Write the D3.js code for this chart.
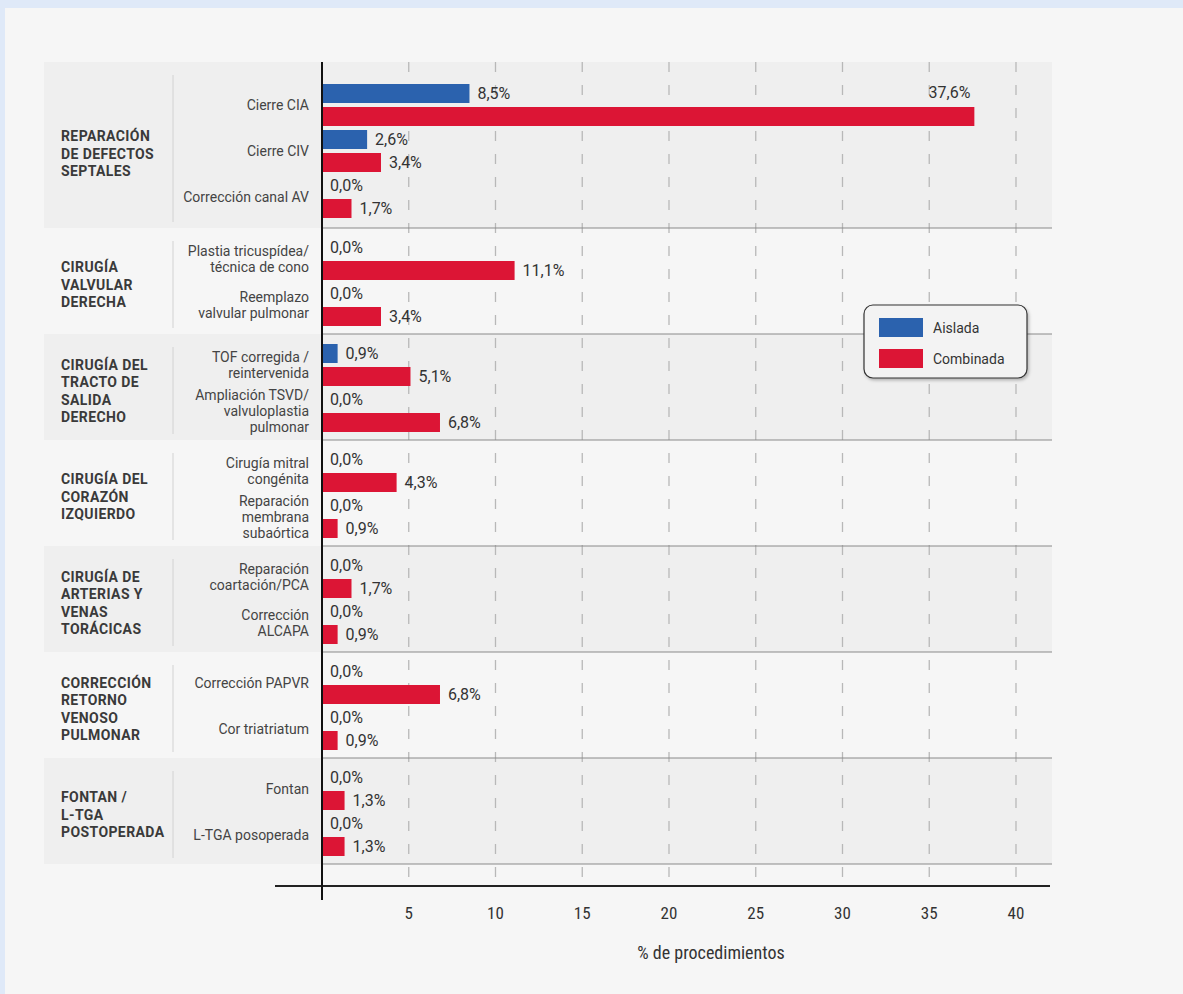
<!DOCTYPE html>
<html>
<head>
<meta charset="utf-8">
<script src="https://cdn.jsdelivr.net/npm/d3@7"></script>
<style>
  body { margin: 0; background: #dfe9f8; }
  svg { display: block; }
</style>
</head>
<body>
<div class="canvas"></div>
<script>
// data
const groups = [
  'REPARACIÓN\nDE DEFECTOS\nSEPTALES',
  'CIRUGÍA\nVALVULAR\nDERECHA',
  'CIRUGÍA DEL\nTRACTO DE\nSALIDA\nDERECHO',
  'CIRUGÍA DEL\nCORAZÓN\nIZQUIERDO',
  'CIRUGÍA DE\nARTERIAS Y\nVENAS\nTORÁCICAS',
  'CORRECCIÓN\nRETORNO\nVENOSO\nPULMONAR',
  'FONTAN /\nL-TGA\nPOSTOPERADA'
];
const procedures = [
  ['Cierre CIA', 'Cierre CIV', 'Corrección canal AV'],
  ['Plastia tricuspídea/\ntécnica de cono', 'Reemplazo\nvalvular pulmonar'],
  ['TOF corregida /\nreintervenida', 'Ampliación TSVD/\nvalvuloplastia\npulmonar'],
  ['Cirugía mitral\ncongénita', 'Reparación\nmembrana\nsubaórtica'],
  ['Reparación\ncoartación/PCA', 'Corrección\nALCAPA'],
  ['Corrección PAPVR', 'Cor triatriatum'],
  ['Fontan', 'L-TGA posoperada']
];
const aislada = [
  [8.5, 2.6, 0.0],
  [0.0, 0.0],
  [0.9, 0.0],
  [0.0, 0.0],
  [0.0, 0.0],
  [0.0, 0.0],
  [0.0, 0.0]
];
const combinada = [
  [37.6, 3.4, 1.7],
  [11.1, 3.4],
  [5.1, 6.8],
  [4.3, 0.9],
  [1.7, 0.9],
  [6.8, 0.9],
  [1.3, 1.3]
];
const series = ['Aislada', 'Combinada'];
const colors = ['#2b62ae', '#dc1535'];
const ticks = [5, 10, 15, 20, 25, 30, 35, 40];

const W = 1183, H = 994;
const svg = d3.select('.canvas')
  .append('svg')
    .attr('width', W)
    .attr('height', H);

// panel background
svg.append('rect')
  .attr('x', 5).attr('y', 8)
  .attr('width', W - 5).attr('height', H - 8)
  .attr('fill', '#f6f6f6');

// layout
const left = 44, right = 1052;
const top0 = 62;
const step = 46, padFirst = 20, padTop = 8, padBottom = 6;
const barH = 19;

const x = d3.scaleLinear()
  .domain([0, 40])
  .range([322, 1016]);

// compute group extents
let cursor = top0;
const layout = groups.map((g, i) => {
  const pt = i === 0 ? padFirst : padTop;
  const pb = i === 0 ? padBottom + 2 : padBottom;
  const h = pt + procedures[i].length * step + pb;
  const item = {i, y0: cursor, y1: cursor + h, pt};
  cursor += h;
  return item;
});
const chartBottom = cursor;

const fmt = v => v.toFixed(1).replace('.', ',') + '%';

// group bands
svg.selectAll('rect.band')
  .data(layout.filter(d => d.i % 2 === 0))
  .enter().append('rect')
    .attr('class', 'band')
    .attr('x', left)
    .attr('y', d => d.y0)
    .attr('width', right - left)
    .attr('height', d => d.y1 - d.y0)
    .attr('fill', '#efefef');

// dashed gridlines
svg.selectAll('line.grid')
  .data(ticks)
  .enter().append('line')
    .attr('x1', d => x(d)).attr('x2', d => x(d))
    .attr('y1', top0).attr('y2', chartBottom + 18)
    .attr('stroke', '#b8b8b8')
    .attr('stroke-width', 1.3)
    .attr('stroke-dasharray', '10,13');

// separator lines
svg.selectAll('line.sep')
  .data(layout)
  .enter().append('line')
    .attr('x1', x(0)).attr('x2', right)
    .attr('y1', d => d.y1).attr('y2', d => d.y1)
    .attr('stroke', '#8a8a8a')
    .attr('stroke-width', 1.2);

// divider between group and procedure labels
svg.selectAll('line.div')
  .data(layout)
  .enter().append('line')
    .attr('x1', 173).attr('x2', 173)
    .attr('y1', d => d.y0 + 13).attr('y2', d => d.y1 - 6)
    .attr('stroke', '#d2d2d2')
    .attr('stroke-width', 1);

const multiline = (sel, text, x0, yc, lh) => {
  const lines = text.split('\n');
  lines.forEach((ln, k) => {
    sel.append('tspan')
      .attr('x', x0)
      .attr('y', yc + (k - (lines.length - 1) / 2) * lh)
      .attr('dy', '0.35em')
      .text(ln);
  });
};

// group labels
layout.forEach(d => {
  const yc = d.y0 + d.pt + procedures[d.i].length * step / 2 + 3;
  const t = svg.append('text')
    .attr('font-family', 'Roboto, sans-serif')
    .attr('font-weight', 700)
    .attr('font-size', 14)
    .attr('letter-spacing', 0.4)
    .attr('fill', '#3a3a3a');
  multiline(t, groups[d.i], 61, yc, 17.5);
});

// bars and labels
layout.forEach(d => {
  procedures[d.i].forEach((p, j) => {
    const sy = d.y0 + d.pt + j * step;
    const slot = step / 2;
    const t = svg.append('text')
      .attr('font-family', 'Roboto, sans-serif')
      .attr('font-size', 14)
      .attr('text-anchor', 'end')
      .attr('fill', '#444');
    multiline(t, p, 309, sy + step / 2, 16);

    [aislada[d.i][j], combinada[d.i][j]].forEach((v, s) => {
      const by = sy + s * slot + (slot - barH) / 2;
      if (v > 0) {
        svg.append('rect')
          .attr('x', x(0))
          .attr('y', by)
          .attr('width', x(v) - x(0))
          .attr('height', barH)
          .attr('fill', colors[s]);
      }
      const big = v > 30;
      svg.append('text')
        .attr('x', v > 0 ? (big ? x(v) - 4 : x(v) + 8) : x(0) + 8)
        .attr('y', big ? by - 15 : by + barH / 2)
        .attr('dy', '0.35em')
        .attr('text-anchor', big ? 'end' : 'start')
        .attr('font-family', 'Roboto, sans-serif')
        .attr('font-size', 16)
        .attr('fill', '#333')
        .text(fmt(v));
    });
  });
});

// axes
const axisY = 886;
svg.append('line')
  .attr('x1', 275).attr('x2', 1050)
  .attr('y1', axisY).attr('y2', axisY)
  .attr('stroke', '#222').attr('stroke-width', 2);
svg.append('line')
  .attr('x1', x(0)).attr('x2', x(0))
  .attr('y1', top0).attr('y2', 900)
  .attr('stroke', '#111').attr('stroke-width', 2);

svg.selectAll('text.tick')
  .data(ticks)
  .enter().append('text')
    .attr('x', d => x(d))
    .attr('y', 913)
    .attr('dy', '0.35em')
    .attr('text-anchor', 'middle')
    .attr('font-family', "'Roboto Condensed', 'Liberation Sans Narrow', 'DejaVu Sans Condensed', sans-serif")
    .attr('font-size', 17)
    .attr('fill', '#333')
    .text(d => d);

svg.append('text')
  .attr('x', 711)
  .attr('y', 953)
  .attr('dy', '0.35em')
  .attr('text-anchor', 'middle')
  .attr('font-family', "'Roboto Condensed', 'Liberation Sans Narrow', 'DejaVu Sans Condensed', sans-serif")
  .attr('font-size', 18)
  .attr('fill', '#333')
  .text('% de procedimientos');

// legend
const defs = svg.append('defs');
const f = defs.append('filter').attr('id', 'shadow')
  .attr('x', '-10%').attr('y', '-10%').attr('width', '130%').attr('height', '140%');
f.append('feDropShadow')
  .attr('dx', 1.5).attr('dy', 2).attr('stdDeviation', 1.5)
  .attr('flood-color', '#000').attr('flood-opacity', 0.25);

const legend = svg.append('g').attr('transform', 'translate(864, 305)');
legend.append('rect')
  .attr('width', 163).attr('height', 73)
  .attr('rx', 9)
  .attr('fill', '#f3f3f3')
  .attr('stroke', '#333')
  .attr('stroke-width', 1.2)
  .attr('filter', 'url(#shadow)');
series.forEach((s, k) => {
  legend.append('rect')
    .attr('x', 15).attr('y', 13 + k * 31)
    .attr('width', 44).attr('height', 19)
    .attr('fill', colors[k]);
  legend.append('text')
    .attr('x', 69).attr('y', 23 + k * 31)
    .attr('dy', '0.35em')
    .attr('font-family', 'Roboto, sans-serif')
    .attr('font-size', 14)
    .attr('fill', '#333')
    .text(s);
});
</script>
</body>
</html>
